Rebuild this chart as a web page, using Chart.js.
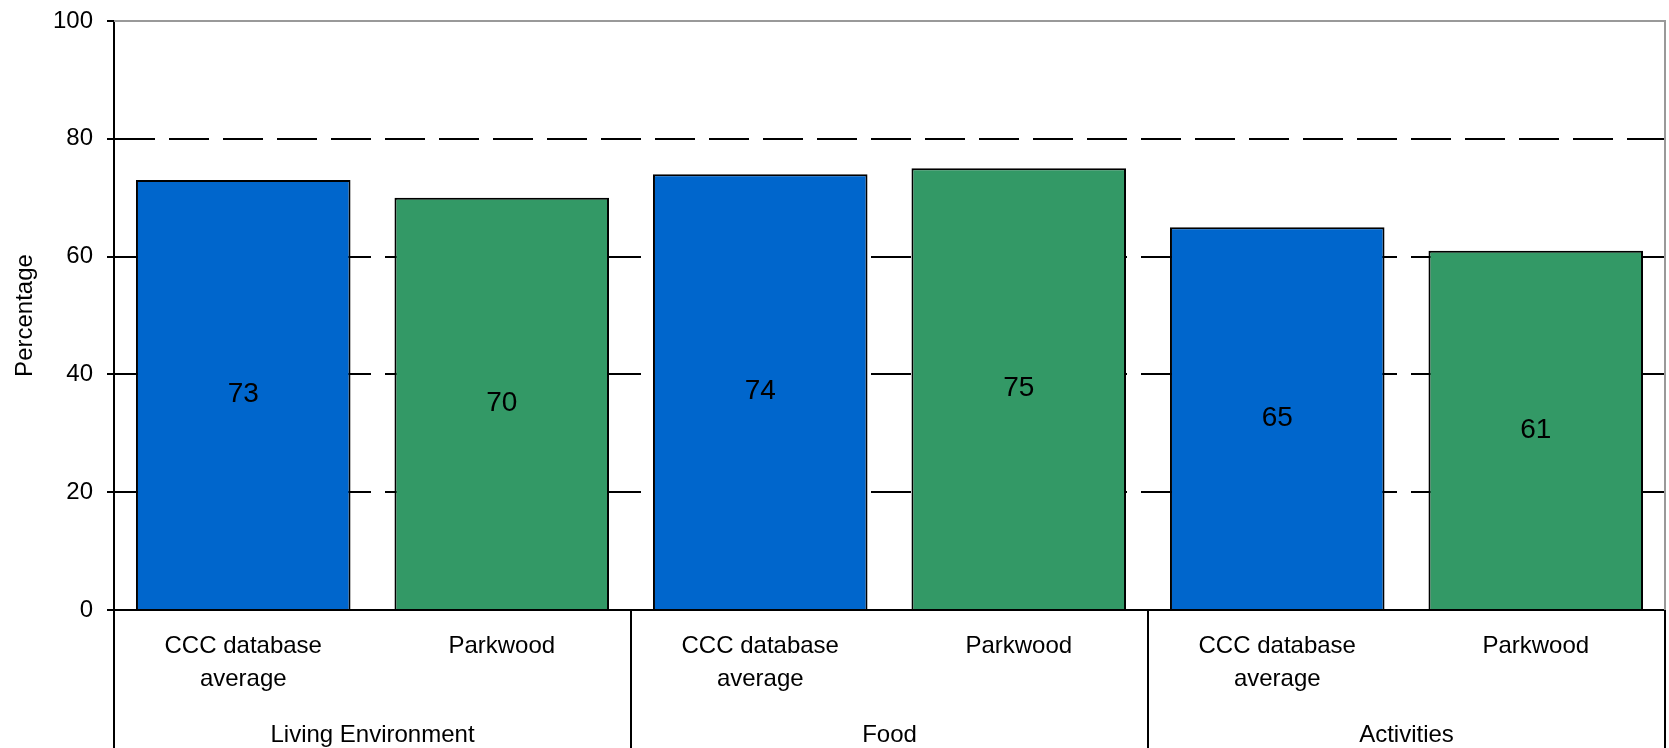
<!DOCTYPE html>
<html>
<head>
<meta charset="utf-8">
<title>Satisfaction by area</title>
<script src="https://cdn.jsdelivr.net/npm/chart.js@4.4.1/dist/chart.umd.min.js"></script>
<style>
  html, body { margin: 0; padding: 0; background: #fff; }
  #wrap { width: 1669px; height: 748px; }
</style>
</head>
<body>
<div id="wrap"><canvas id="areaChart"></canvas></div>
<script>
// group and series names
const groups = ['Living Environment', 'Food', 'Activities'];
const seriesNames = [['CCC database', 'average'], 'Parkwood'];
const seriesColors = ['#0066cc', '#339966'];

// one value per bar, group by group
const values = [73, 70, 74, 75, 65, 61];

// y axis
const yMin = 0;
const yMax = 100;
const yStep = 20;

const FAMILY = "'Liberation Sans', Arial, sans-serif";
const FONT = { family: FAMILY, size: 24 };

// inner labels: every series name repeated for each group
const labels = [];
const barColors = [];
groups.forEach(() => {
    seriesNames.forEach((name, i) => {
        labels.push(name);
        barColors.push(seriesColors[i]);
    });
});

// writes each bar's value in the middle of the bar
const valueLabels = {
    id: 'valueLabels',
    afterDatasetsDraw(chart) {
        const ctx = chart.ctx;
        const meta = chart.getDatasetMeta(0);
        ctx.save();
        ctx.font = `28px ${FAMILY}`;
        ctx.fillStyle = '#000';
        ctx.textAlign = 'center';
        ctx.textBaseline = 'middle';
        meta.data.forEach((bar, i) => {
            const { x, y, base } = bar.getProps(['x', 'y', 'base'], true);
            ctx.fillText(String(chart.data.datasets[0].data[i]), x, (y + base) / 2);
        });
        ctx.restore();
    }
};

// grey top and right edges of the plot area
const plotFrame = {
    id: 'plotFrame',
    beforeDatasetsDraw(chart) {
        const { ctx, chartArea } = chart;
        ctx.save();
        ctx.strokeStyle = '#999';
        ctx.lineWidth = 2;
        ctx.beginPath();
        ctx.moveTo(chartArea.left, chartArea.top);
        ctx.lineTo(chartArea.right, chartArea.top);
        ctx.lineTo(chartArea.right, chartArea.bottom);
        ctx.stroke();
        ctx.restore();
    }
};

const isInnerTick = ctx => ctx.type === 'tick' && ctx.tick.value !== yMin && ctx.tick.value !== yMax;

new Chart(document.getElementById('areaChart'), {
    type: 'bar',
    data: {
        labels: labels,
        datasets: [{
            data: values,
            backgroundColor: barColors,
            borderColor: '#000',
            borderWidth: 2,
            categoryPercentage: 1,
            barPercentage: 0.83
        }]
    },
    options: {
        responsive: true,
        maintainAspectRatio: false,
        animation: false,
        layout: { padding: { top: 21, right: 4, left: 0, bottom: 0 } },
        plugins: {
            legend: { display: false },
            tooltip: { enabled: false }
        },
        scales: {
            x: {
                position: 'bottom',
                grid: {
                    offset: true,
                    drawOnChartArea: false,
                    tickLength: 138,
                    lineWidth: 2,
                    // separators only between groups
                    color: ctx => (ctx.type !== 'tick' || ctx.index % 2 === 0) ? '#000' : 'rgba(0,0,0,0)'
                },
                border: { color: '#000', width: 2 },
                ticks: {
                    font: { ...FONT, lineHeight: 1.375 },
                    color: '#000',
                    padding: -118.5,
                    maxRotation: 0,
                    autoSkip: false
                },
                afterFit: s => { s.height = 82; }
            },
            x2: {
                type: 'category',
                labels: groups,
                position: 'bottom',
                offset: true,
                grid: { display: false },
                border: { display: false },
                ticks: { font: FONT, color: '#000', padding: 21, maxRotation: 0 },
                afterFit: s => { s.height = 56; }
            },
            y: {
                min: yMin,
                max: yMax,
                ticks: {
                    stepSize: yStep,
                    font: FONT,
                    color: '#000',
                    padding: 14
                },
                grid: {
                    lineWidth: 2,
                    tickLength: 7,
                    tickColor: '#000',
                    tickBorderDash: [],
                    // the 100 line is the grey frame, the 0 line is the x axis
                    color: ctx => isInnerTick(ctx) ? '#000' : 'rgba(0,0,0,0)'
                },
                border: {
                    color: '#000',
                    width: 2,
                    dash: ctx => isInnerTick(ctx) ? [40, 14] : []
                },
                title: {
                    display: true,
                    text: 'Percentage',
                    font: FONT,
                    color: '#000',
                    padding: { top: 11, bottom: 0 }
                },
                afterFit: s => {
                    s.width = 114;
                    s.paddingTop = 0;
                    s.paddingBottom = 0;
                }
            }
        }
    },
    plugins: [plotFrame, valueLabels]
});
</script>
</body>
</html>
